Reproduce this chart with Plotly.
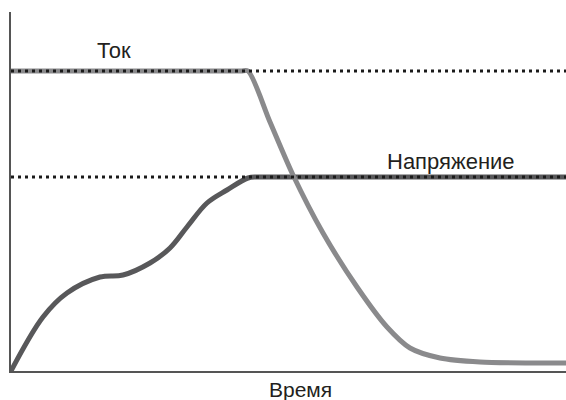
import plotly.graph_objects as go

# Time axis (arbitrary units) and signal levels
volt_t = [0, 32, 56, 89, 112, 139, 159, 176, 196, 216, 237, 246, 262, 300, 400, 500, 555]
volt_v = [0, 54, 78, 94, 96, 108, 123, 144, 168, 181, 193, 194, 194, 194, 194, 194, 194]

curr_t = [0, 100, 200, 230, 237, 259, 282, 312, 346, 376, 399, 429, 469, 520, 555]
curr_v = [300, 300, 300, 300, 300, 249, 196, 138, 84, 44, 23, 13, 9, 8, 8]

curr_level = 300
volt_level = 194
t_min, t_max = 0, 555
v_min, v_max = 0, 359

labels = {"current": "Ток", "voltage": "Напряжение", "time": "Время"}

FONT = "Liberation Sans, Arial, sans-serif"

fig = go.Figure()
fig.add_trace(go.Scatter(x=volt_t, y=volt_v, mode="lines",
                         line=dict(color="#58585a", width=5, shape="spline", smoothing=1.0),
                         hoverinfo="skip"))
fig.add_trace(go.Scatter(x=curr_t, y=curr_v, mode="lines",
                         line=dict(color="#8a8a8c", width=5, shape="spline", smoothing=0.8),
                         hoverinfo="skip"))
for lvl in (curr_level, volt_level):
    fig.add_trace(go.Scatter(x=[t_min, t_max], y=[lvl, lvl], mode="lines",
                             line=dict(color="#1a1a1a", width=3, dash="3px,4px"),
                             hoverinfo="skip"))

fig.add_annotation(x=103, y=321, text=labels["current"], showarrow=False,
                   font=dict(family=FONT, size=22, color="#231f20"))
fig.add_annotation(x=440, y=210, text=labels["voltage"], showarrow=False,
                   font=dict(family=FONT, size=22, color="#231f20"))
fig.add_annotation(x=289, xref="x", y=-0.052, yref="paper", text=labels["time"],
                   showarrow=False, yanchor="middle",
                   font=dict(family=FONT, size=21, color="#231f20"))

fig.update_layout(
    width=566, height=400,
    margin=dict(l=11, r=0, t=12, b=29),
    paper_bgcolor="white", plot_bgcolor="white",
    showlegend=False,
    xaxis=dict(range=[t_min, t_max], showgrid=False, zeroline=False,
               showticklabels=False, ticks="", showline=True,
               linecolor="#555555", linewidth=1.5),
    yaxis=dict(range=[v_min, v_max], showgrid=False, zeroline=False,
               showticklabels=False, ticks="", showline=True,
               linecolor="#555555", linewidth=1.5),
)

fig.write_html("out.html", config={"displayModeBar": False},
               post_script="document.body.style.margin='0';")
